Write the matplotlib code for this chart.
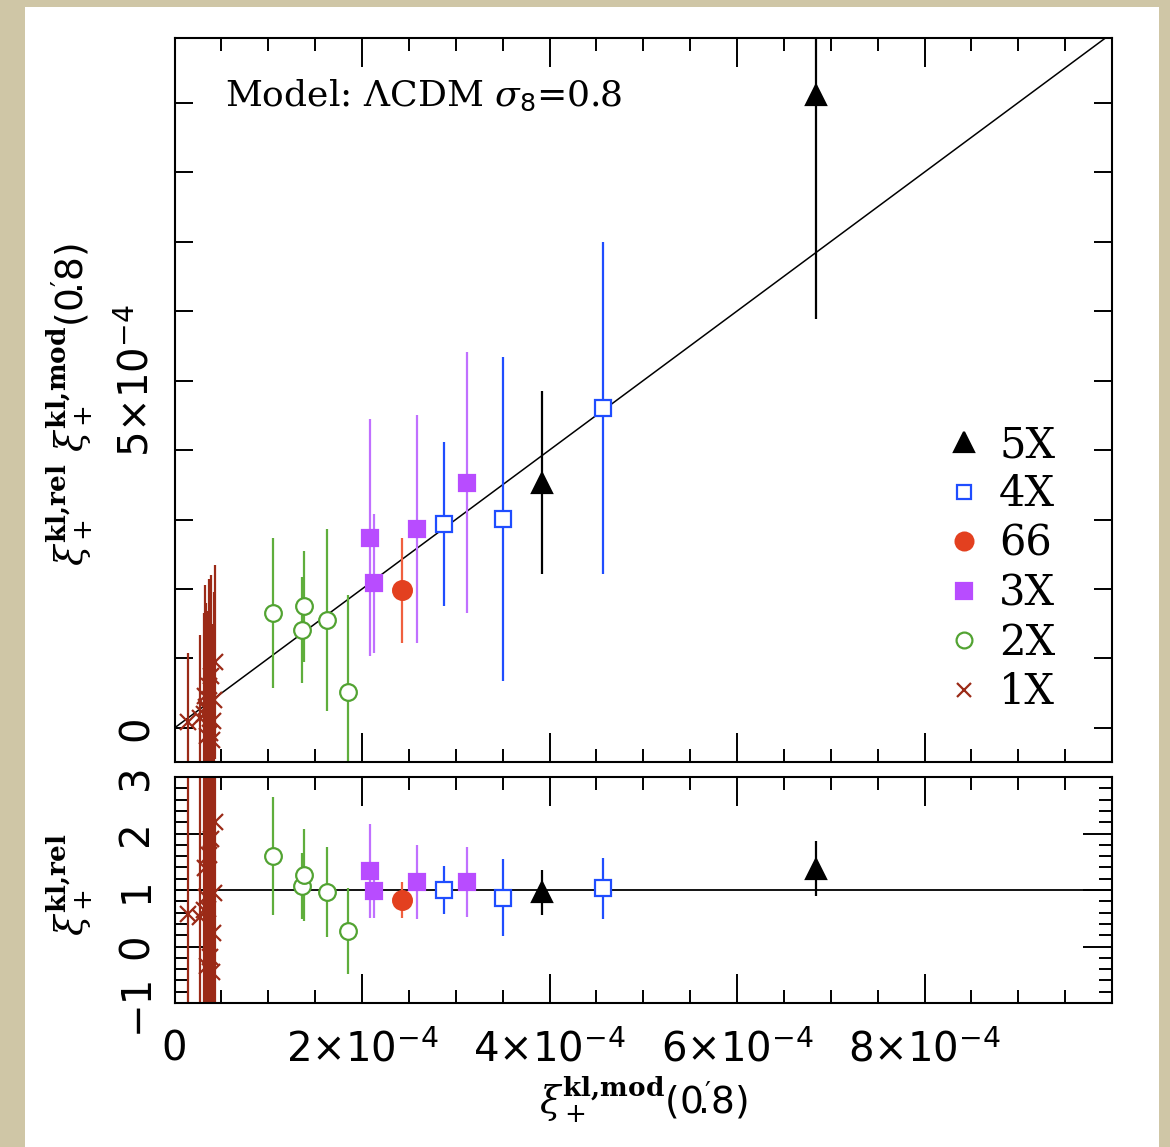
import matplotlib
matplotlib.use("Agg")
import matplotlib.pyplot as plt
from matplotlib.lines import Line2D
from matplotlib.patches import Rectangle
from matplotlib.ticker import FixedLocator, FixedFormatter, MultipleLocator, NullFormatter

plt.rcParams['mathtext.fontset'] = 'custom'
plt.rcParams['mathtext.rm'] = 'DejaVu Sans'
plt.rcParams['mathtext.it'] = 'DejaVu Serif:italic'
plt.rcParams['mathtext.bf'] = 'DejaVu Serif:bold'
plt.rcParams['mathtext.sf'] = 'DejaVu Sans'

SCALE = 1e-4  # all xi values below are in units of 1e-4

# ---- data (x = model, y = measured, e = error), units of 1e-4 ----
x5 = [3.92, 6.84]
y5 = [3.53, 9.11]
e5 = [1.32, 3.23]
r5 = [0.96, 1.38]
re5 = [0.40, 0.48]

x4 = [2.87, 3.50, 4.57]
y4 = [2.93, 3.01, 4.61]
e4 = [1.18, 2.33, 2.39]
r4 = [1.00, 0.86, 1.03]
re4 = [0.43, 0.68, 0.54]

x66 = [2.43]
y66 = [1.98]
e66 = [0.76]
r66 = [0.82]
re66 = [0.32]

x3 = [2.09, 2.13, 2.59, 3.12]
y3 = [2.74, 2.08, 2.86, 3.53]
e3 = [1.70, 1.00, 1.64, 1.88]
r3 = [1.34, 0.99, 1.14, 1.14]
re3 = [0.83, 0.48, 0.65, 0.62]

x2 = [1.05, 1.36, 1.38, 1.63, 1.85]
y2 = [1.65, 1.41, 1.75, 1.55, 0.52]
e2 = [1.08, 0.76, 0.80, 1.31, 1.40]
r2 = [1.60, 1.07, 1.27, 0.96, 0.27]
re2 = [1.05, 0.58, 0.81, 0.80, 0.76]

x1 = [0.14, 0.27, 0.31, 0.33, 0.34, 0.35, 0.36, 0.37, 0.38, 0.39, 0.40, 0.41, 0.42, 0.43]
y1 = [0.08, 0.14, 0.20, 0.46, 0.30, -0.12, 0.24, 0.60, -0.07, 0.75, -0.17, 0.10, 0.40, 0.95]
e1 = [1.00, 1.20, 1.45, 1.60, 1.50, 1.40, 1.45, 1.55, 1.35, 1.45, 1.50, 1.40, 1.55, 1.40]
r1 = [0.57, 0.52, 0.65, 1.39, 0.88, -0.34, 0.67, 1.62, -0.19, 1.90, -0.45, 0.24, 0.95, 2.20]
re1 = [7.0, 4.4, 4.7, 4.8, 4.4, 4.0, 4.0, 4.2, 3.6, 3.7, 3.7, 3.4, 3.7, 3.3]

legend_labels = ['5X', '4X', '66', '3X', '2X', '1X']
xtick_vals = [0, 2, 4, 6, 8, 10]
xtick_labels = ['0', '2×10$^{-4}$', '4×10$^{-4}$', '6×10$^{-4}$', '8×10$^{-4}$', '']
ytop_vals = [0, 5]
ytop_labels = ['0', '5×10$^{-4}$']
ybot_vals = [-1, 0, 1, 2, 3]
ybot_labels = ['−1', '0', '1', '2', '3']

def sc(v):
    return [a * SCALE for a in v]

# ---- styles ----
series = [
    dict(x=x5, y=y5, e=e5, r=r5, re=re5, m='^', c='black', ec='black', ms=15, fill=True),
    dict(x=x4, y=y4, e=e4, r=r4, re=re4, m='s', c='#1f4dff', ec='#1f4dff', ms=11, fill=False),
    dict(x=x66, y=y66, e=e66, r=r66, re=re66, m='o', c='#e3401f', ec='#f0603f', ms=13.5, fill=True),
    dict(x=x3, y=y3, e=e3, r=r3, re=re3, m='s', c='#b84cff', ec='#c070ff', ms=12, fill=True),
    dict(x=x2, y=y2, e=e2, r=r2, re=re2, m='o', c='#52a332', ec='#5fae3c', ms=12, fill=False),
    dict(x=x1, y=y1, e=e1, r=r1, re=re1, m='x', c='#9b2a17', ec='#9b2a17', ms=11, fill=True),
]

W, H = 1170, 1147
fig = plt.figure(figsize=(W / 100, H / 100), dpi=100)
fig.patch.set_facecolor('#cfc6a6')
bg = Rectangle((25 / W, 0), (1159 - 25) / W, (H - 7) / H,
               transform=fig.transFigure, facecolor='white',
               edgecolor='none', zorder=-10)
fig.patches.append(bg)

left = 174.5 / W
width = (1112 - 174.5) / W
ax = fig.add_axes([left, 1 - 762 / H, width, (762 - 38) / H])
axb = fig.add_axes([left, 1 - 1003 / H, width, (1003 - 777) / H])

# reference lines
ax.plot([0, 10 * SCALE], [0, 10 * SCALE], color='black', lw=1.1, zorder=1)
axb.axhline(1, color='black', lw=1.3, zorder=1)

for s in series:
    mfc = s['c'] if (s['fill'] or s['m'] == 'x') else 'white'
    kw = dict(fmt='none', ecolor=s['ec'], elinewidth=1.6, capsize=0, zorder=2)
    ax.errorbar(sc(s['x']), sc(s['y']), yerr=sc(s['e']), **kw)
    axb.errorbar(sc(s['x']), s['r'], yerr=s['re'], **kw)
    mkw = dict(ls='none', marker=s['m'], ms=s['ms'], mfc=mfc, mec=s['c'],
               mew=1.6, zorder=3)
    ax.plot(sc(s['x']), sc(s['y']), **mkw)
    axb.plot(sc(s['x']), s['r'], **mkw)

ax.set_xlim(0, 10 * SCALE)
ax.set_ylim(-0.49 * SCALE, 9.93 * SCALE)
axb.set_xlim(0, 10 * SCALE)
axb.set_ylim(-1, 3)

for a in (ax, axb):
    a.xaxis.set_major_locator(FixedLocator(sc(xtick_vals)))
    a.xaxis.set_minor_locator(MultipleLocator(0.5 * SCALE))
    a.tick_params(axis='x', which='major', direction='in', length=21, width=1.4,
                  top=True, bottom=True, pad=19)
    a.tick_params(axis='x', which='minor', direction='in', length=9.5, width=1.4,
                  top=True, bottom=True)
    for sp in a.spines.values():
        sp.set_linewidth(1.5)

ax.xaxis.set_major_formatter(NullFormatter())
axb.xaxis.set_major_formatter(FixedFormatter(xtick_labels))

ax.yaxis.set_major_locator(FixedLocator(sc(ytop_vals)))
ax.yaxis.set_minor_locator(MultipleLocator(1 * SCALE))
ax.yaxis.set_major_formatter(FixedFormatter(ytop_labels))
ax.tick_params(axis='y', which='both', direction='in', length=13, width=1.4,
               left=True, right=True, pad=13)

axb.yaxis.set_major_locator(FixedLocator(ybot_vals))
axb.yaxis.set_minor_locator(MultipleLocator(0.2))
axb.yaxis.set_major_formatter(FixedFormatter(ybot_labels))
axb.tick_params(axis='y', which='major', direction='in', length=21, width=1.4,
                left=True, right=True, pad=13)
axb.tick_params(axis='y', which='minor', direction='in', length=9.5, width=1.4,
                left=True, right=True)

for a in (ax, axb):
    for lab in a.get_xticklabels() + a.get_yticklabels():
        lab.set_fontfamily('DejaVu Sans')
        lab.set_fontsize(29)
    for lab in a.get_yticklabels():
        lab.set_rotation(90)
        lab.set_va('center')

# annotation
ax.text((225 - 174.5) / 937.5, (762 - 95) / 724, r'Model: ΛCDM $\sigma_8$=0.8',
        transform=ax.transAxes, family='DejaVu Serif', fontsize=26,
        ha='left', va='center')

# legend
handles = []
for s in series:
    mfc = s['c'] if (s['fill'] or s['m'] == 'x') else 'white'
    handles.append(Line2D([], [], ls='none', marker=s['m'], ms=s['ms'] * 0.95,
                          mfc=mfc, mec=s['c'], mew=1.6))
leg = ax.legend(handles, legend_labels, loc='upper left',
                bbox_to_anchor=((943 - 174.5) / 937.5, (762 - 424) / 724),
                frameon=False, handlelength=1.0, handletextpad=0.35,
                labelspacing=0.18, borderaxespad=0, borderpad=0,
                prop=dict(family='DejaVu Serif', size=30))

# axis labels
arc = r'(0\!\overset{\prime}{.}\!8)'
ylab_top = r'$\xi_+^{\mathbf{kl{,}rel}}\ \xi_+^{\mathbf{kl{,}mod}}' + arc + '$'
fig.text(70 / W, 1 - 405 / H, ylab_top, rotation=90, ha='center', va='center',
         fontsize=27)
fig.text(70 / W, 1 - 885 / H, r'$\xi_+^{\mathbf{kl{,}rel}}$', rotation=90,
         ha='center', va='center', fontsize=27)
fig.text(643 / W, 1 - 1100 / H, r'$\xi_+^{\mathbf{kl{,}mod}}' + arc + '$',
         ha='center', va='center', fontsize=27)

fig.savefig('out.png', dpi=100, facecolor=fig.get_facecolor())
